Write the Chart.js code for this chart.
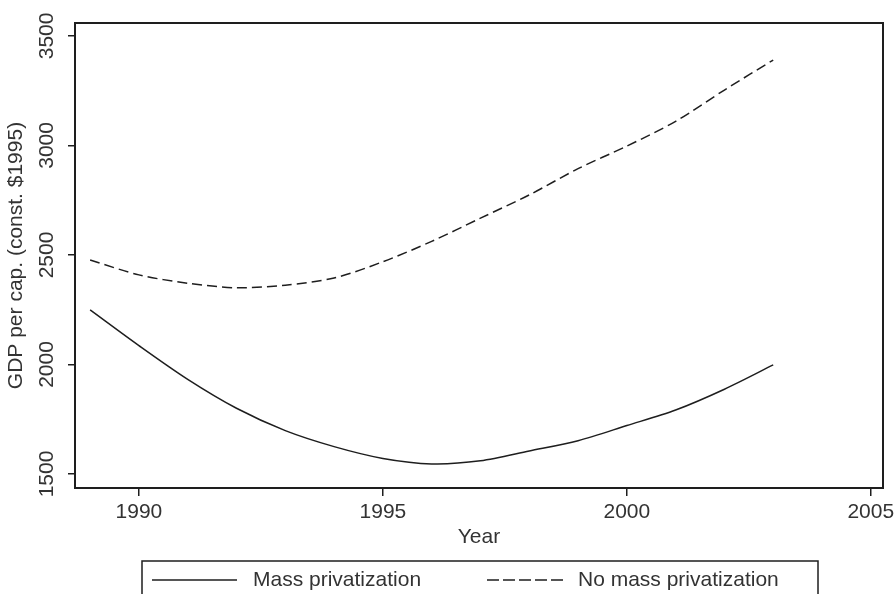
<!DOCTYPE html>
<html>
<head>
<meta charset="utf-8">
<script src="https://cdn.jsdelivr.net/npm/chart.js@4"></script>
<style>
  html, body { margin: 0; padding: 0; background: #fff; }
  #wrap { width: 896px; height: 594px; }
</style>
</head>
<body>
<div id="wrap"><canvas id="chart" width="896" height="594"></canvas></div>
<script>
// data
const years = [1989, 1990, 1991, 1992, 1993, 1994, 1995, 1996, 1997, 1998, 1999, 2000, 2001, 2002, 2003];
const massPriv = [2249, 2086, 1932, 1800, 1698, 1625, 1571, 1546, 1560, 1605, 1652, 1721, 1792, 1887, 1998];
const noMassPriv = [2477, 2409, 2371, 2350, 2362, 2395, 2469, 2562, 2668, 2774, 2894, 2997, 3110, 3253, 3390];
const xTicks = [1990, 1995, 2000, 2005];
const yTicks = [1500, 2000, 2500, 3000, 3500];

const FONT = "Liberation Sans, Arial, sans-serif";
const INK = "#1e1e1e";
const TEXT = "#333";

function pts(vals) {
  return years.map((y, i) => ({ x: y, y: vals[i] }));
}

var ctx = document.getElementById("chart");

var myChart = new Chart(ctx, {
  type: "line",
  data: {
    datasets: [
      {
        label: "Mass privatization",
        data: pts(massPriv),
        borderColor: INK,
        borderWidth: 1.5,
        pointRadius: 0,
        tension: 0.3,
        fill: false,
      },
      {
        label: "No mass privatization",
        data: pts(noMassPriv),
        borderColor: INK,
        borderWidth: 1.5,
        borderDash: [10, 5],
        pointRadius: 0,
        tension: 0.3,
        fill: false,
      },
    ],
  },
  options: {
    responsive: false,
    animation: false,
    events: [],
    layout: { padding: { top: 23, right: 13, left: 0, bottom: 0 } },
    plugins: {
      legend: { display: false },
      tooltip: { enabled: false },
    },
    scales: {
      x: {
        type: "linear",
        min: 1988.69,
        max: 2005.25,
        afterBuildTicks: (scale) => {
          scale.ticks = xTicks.map((v) => ({ value: v }));
        },
        afterFit: (scale) => {
          scale.height = 106;
          // let the 2005 label run past the plot like Stata does
          scale.paddingLeft = 0;
          scale.paddingRight = 0;
        },
        grid: {
          drawOnChartArea: false,
          drawTicks: true,
          tickLength: 8,
          color: INK,
          lineWidth: 1.5,
        },
        border: { display: false },
        ticks: {
          autoSkip: false,
          maxRotation: 0,
          padding: 4,
          color: TEXT,
          font: { family: FONT, size: 21 },
          callback: (v) => String(v),
        },
      },
      y: {
        type: "linear",
        min: 1436,
        max: 3559,
        afterBuildTicks: (scale) => {
          scale.ticks = yTicks.map((v) => ({ value: v }));
        },
        afterFit: (scale) => {
          scale.width = 75;
          scale.paddingTop = 0;
          scale.paddingBottom = 0;
        },
        grid: {
          drawOnChartArea: false,
          drawTicks: true,
          tickLength: 7,
          color: INK,
          lineWidth: 1.5,
        },
        border: { display: false },
        ticks: { display: false },
      },
    },
  },
  plugins: [
    {
      id: "stataFrame",
      afterDraw: (chart) => {
        const { ctx, chartArea: a, scales } = chart;
        ctx.save();
        // plot region outline
        ctx.strokeStyle = INK;
        ctx.lineWidth = 2;
        ctx.strokeRect(a.left, a.top, a.right - a.left, a.bottom - a.top);

        // rotated y tick labels
        ctx.fillStyle = TEXT;
        ctx.font = "21px " + FONT;
        ctx.textAlign = "center";
        ctx.textBaseline = "middle";
        yTicks.forEach((v) => {
          ctx.save();
          ctx.translate(47, scales.y.getPixelForValue(v));
          ctx.rotate(-Math.PI / 2);
          ctx.fillText(String(v), 0, 0);
          ctx.restore();
        });

        // y title
        ctx.save();
        ctx.translate(16, (a.top + a.bottom) / 2);
        ctx.rotate(-Math.PI / 2);
        ctx.fillText("GDP per cap. (const. $1995)", 0, 0);
        ctx.restore();

        // x title
        ctx.fillText("Year", (a.left + a.right) / 2, 537);

        // legend box
        ctx.lineWidth = 1.5;
        ctx.strokeRect(142, 561, 676, 60);
        const items = [
          { x0: 152, x1: 237, tx: 253 },
          { x0: 487, x1: 564, tx: 578 },
        ];
        chart.data.datasets.forEach((ds, i) => {
          const it = items[i];
          ctx.beginPath();
          ctx.setLineDash(ds.borderDash ? [12, 4] : []);
          ctx.strokeStyle = ds.borderColor;
          ctx.lineWidth = 1.5;
          ctx.moveTo(it.x0, 580);
          ctx.lineTo(it.x1, 580);
          ctx.stroke();
          ctx.setLineDash([]);
          ctx.textAlign = "left";
          ctx.fillText(ds.label, it.tx, 580);
        });
        ctx.restore();
      },
    },
  ],
});
</script>
</body>
</html>
